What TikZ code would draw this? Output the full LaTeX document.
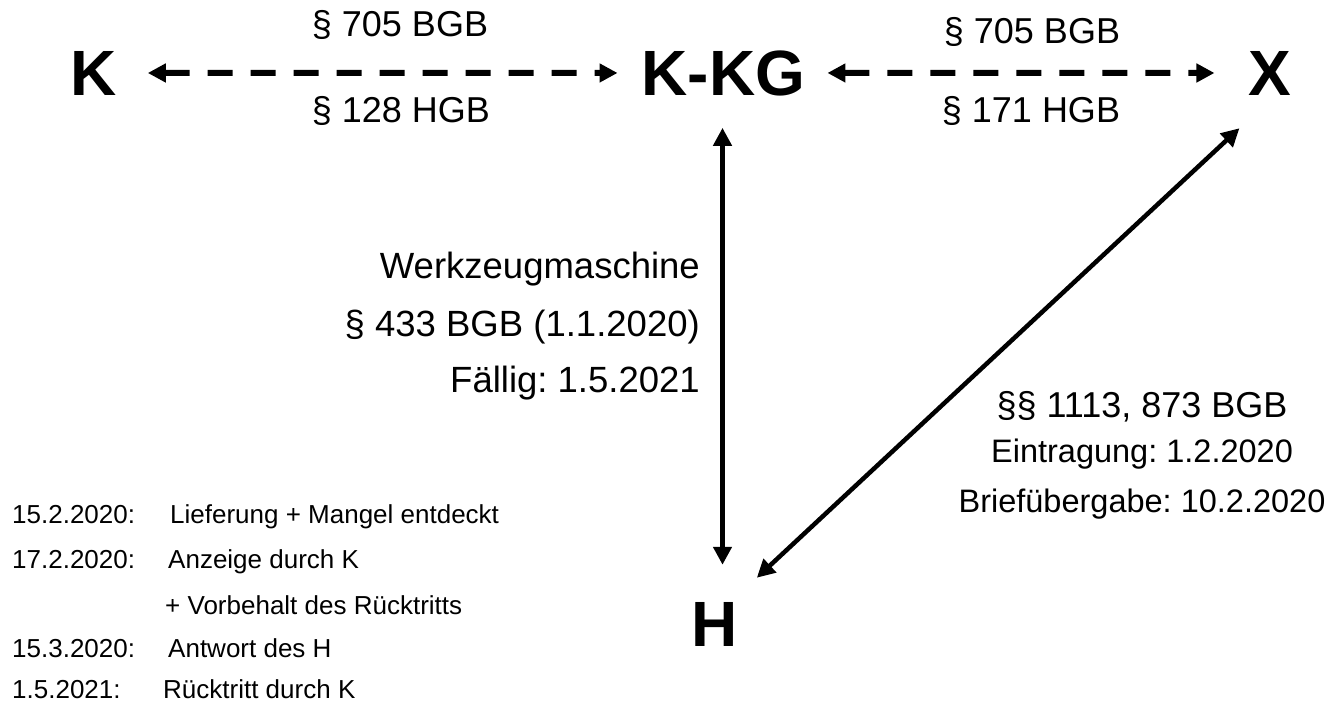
\documentclass[tikz,border=0pt]{standalone}
\usepackage{fontspec}
\setmainfont{Liberation Sans}
\usetikzlibrary{arrows.meta,calc}
\frenchspacing
\begin{document}
\begin{tikzpicture}[x=1pt,y=-1pt,
  ent/.style={font=\fontsize{64}{64}\selectfont\bfseries, inner sep=0pt, anchor=base},
  lab/.style={font=\fontsize{36}{36}\selectfont, inner sep=0pt, anchor=base},
  sm/.style={font=\fontsize{32.5}{32.5}\selectfont, inner sep=0pt, anchor=base},
  lst/.style={font=\fontsize{26}{26}\selectfont, inner sep=0pt, anchor=base west},
  dashrel/.style={line width=6pt, dash pattern=on 25pt off 18pt, {Triangle[length=18pt,width=18pt]}-{Triangle[length=18pt,width=18pt]}},
  solidrel/.style={line width=4.5pt, {Triangle[length=18pt,width=18pt]}-{Triangle[length=18pt,width=18pt]}}
]
\useasboundingbox (0,0) rectangle (1338,720);

% entities
\node[ent] (K) at (93.5,95) {K};
\node[ent] (KKG) at (723.5,95) {K-KG};
\node[ent] (X) at (1270,95) {X};
\node[ent] (H) at (714.5,646) {H};

% relations
\draw[dashrel] ($(K.east)+(31,0)$) -- ($(KKG.west)+(-24,0)$);
\draw[dashrel] ($(KKG.east)+(22,0)$) -- ($(X.west)+(-34,0)$);
\draw[solidrel] ($(KKG.south)+(-1,32)$) -- ($(KKG.south |- H.north)+(-1,-37)$);
\draw[solidrel] ($(X.south west)+(-9,33)$) -- ($(H.north east)+(19,-24)$);

% labels on top
\node[lab] (l1) at (400,36) {§ 705 BGB};
\node[lab] (l2) at (401,122) {§ 128 HGB};
\node[lab] (l3) at (1032,43) {§ 705 BGB};
\node[lab] (l4) at (1031,122) {§ 171 HGB};

% middle labels
\node[lab, anchor=base east, font=\fontsize{36.5}{36.5}\selectfont] (m1) at (700,278) {Werkzeugmaschine};
\node[lab, anchor=base east, font=\fontsize{36.5}{36.5}\selectfont] (m2) at (700,336) {§ 433 BGB (1.1.2020)};
\node[lab, anchor=base east, font=\fontsize{36.5}{36.5}\selectfont] (m3) at (700,392) {Fällig: 1.5.2021};

% right labels
\node[lab] (r1) at (1142,417) {§§ 1113, 873 BGB};
\node[sm] (r2) at (1142,462) {Eintragung: 1.2.2020};
\node[sm] (r3) at (1142,512) {Briefübergabe: 10.2.2020};

% timeline
\node[lst] (d1) at (12,523) {15.2.2020:};
\node[lst] (e1) at (170,523) {Lieferung + Mangel entdeckt};
\node[lst] (d2) at (12,568) {17.2.2020:};
\node[lst] (e2) at (168,568) {Anzeige durch K};
\node[lst] (e3) at (165,614) {+ Vorbehalt des Rücktritts};
\node[lst] (d4) at (12,657) {15.3.2020:};
\node[lst] (e4) at (168,657) {Antwort des H};
\node[lst] (d5) at (12,698) {1.5.2021:};
\node[lst] (e5) at (163,698) {Rücktritt durch K};
\end{tikzpicture}
\end{document}
